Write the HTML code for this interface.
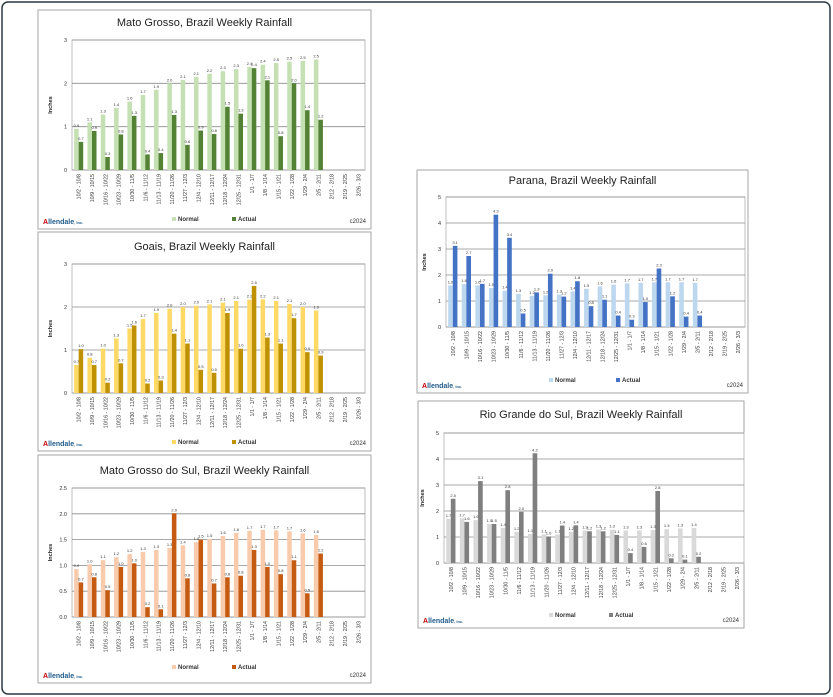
<!DOCTYPE html>
<html><head><meta charset="utf-8"><style>
html,body{margin:0;padding:0;background:#fff;}
svg{display:block;font-family:"Liberation Sans",sans-serif;}
</style></head><body>
<svg id="root" width="833" height="697" viewBox="0 0 833 697">
<rect x="2" y="2" width="828" height="692" rx="6" fill="#fff" stroke="#2b3a42" stroke-width="1.5"/>
</svg>
<script>
const categories = ["10/2 - 10/8","10/9 - 10/15","10/16 - 10/22","10/23 - 10/29","10/30 - 11/5","11/6 - 11/12","11/13 - 11/19","11/20 - 11/26","11/27 - 12/3","12/4 - 12/10","12/11 - 12/17","12/18 - 12/24","12/25 - 12/31","1/1 - 1/7","1/8 - 1/14","1/15 - 1/21","1/22 - 1/28","1/29 - 2/4","2/5 - 2/11","2/12 - 2/18","2/19 - 2/25","2/26 - 3/3"];
const mgNormal = [0.95,1.1,1.28,1.43,1.58,1.73,1.85,2.0,2.08,2.15,2.22,2.28,2.33,2.38,2.43,2.47,2.5,2.52,2.55];
const mgActual = [0.65,0.9,0.3,0.82,1.25,0.36,0.39,1.27,0.58,0.91,0.83,1.46,1.3,2.35,2.07,0.78,2.0,1.38,1.16];
const goNormal = [0.65,0.82,1.03,1.27,1.5,1.72,1.86,1.96,2.0,2.03,2.06,2.1,2.14,2.17,2.18,2.14,2.07,2.0,1.92];
const goActual = [1.02,0.65,0.24,0.69,1.57,0.22,0.29,1.38,1.15,0.54,0.47,1.86,1.03,2.49,1.29,1.15,1.74,0.95,0.87];
const msNormal = [0.93,1.02,1.1,1.16,1.22,1.26,1.3,1.34,1.39,1.45,1.51,1.57,1.63,1.67,1.69,1.68,1.66,1.62,1.59];
const msActual = [0.67,0.77,0.52,0.97,1.04,0.19,0.15,2.01,0.75,1.5,0.65,0.77,0.8,1.3,0.97,0.83,1.1,0.46,1.23];
const prNormal = [1.6,1.65,1.6,1.5,1.4,1.27,1.2,1.22,1.25,1.37,1.47,1.56,1.63,1.68,1.7,1.72,1.72,1.72,1.7];
const prActual = [3.12,2.73,1.66,4.32,3.43,0.52,1.33,2.05,1.17,1.76,0.8,1.05,0.44,0.28,0.96,2.25,1.18,0.4,0.44];
const rsNormal = [1.7,1.72,1.65,1.5,1.35,1.2,1.12,1.1,1.1,1.2,1.25,1.28,1.28,1.25,1.25,1.27,1.3,1.33,1.35];
const rsActual = [2.47,1.58,3.15,1.5,2.8,1.97,4.22,1.02,1.44,1.45,1.22,1.22,1.08,0.38,0.62,2.77,0.18,0.13,0.24];
const ticks3 = [0,1,2,3];
const ticks25 = [0,0.5,1.0,1.5,2.0,2.5];
const ticks5 = [0,1,2,3,4,5];

const NS="http://www.w3.org/2000/svg";
const root=document.getElementById('root');
function mk(tag,attrs,parent){const e=document.createElementNS(NS,tag);for(const k in attrs)e.setAttribute(k,attrs[k]);parent.appendChild(e);return e;}

function chart(cfg){
  const g=mk('g',{},root);
  
  
  const box=mk('rect',{x:cfg.box[0],y:cfg.box[1],width:cfg.box[2],height:cfg.box[3],fill:'#fff',stroke:'#a6a6a6','stroke-width':1},g);
  
  
  const [L,T,R,B]=cfg.plot;
  const ymax=cfg.ticks[cfg.ticks.length-1];
  const y=v=>B-(v/ymax)*(B-T);
  const bw=(R-L)/categories.length;
  const x=i=>L+i*bw;
  const t=mk('text',{x:cfg.box[0]+cfg.box[2]/2,y:cfg.titleY,'text-anchor':'middle','font-size':11,fill:'#222'},g);
  t.textContent=cfg.title;
  
  
  mk('rect',{x:L,y:T,width:R-L,height:B-T,fill:'none',stroke:'#bfbfbf','stroke-width':1},g);
  cfg.ticks.forEach(v=>{
    const gl=mk('line',{x1:L,x2:R,y1:y(v),y2:y(v),stroke:'#8c8c8c','stroke-width':0.8},g);
    
    
    const tl=mk('text',{x:L-5,y:y(v)+2,'text-anchor':'end','font-size':5.5,fill:'#333'},g);
    tl.textContent=cfg.fmt(v);
    
    
  });
  const yt=mk('text',{x:0,y:0,'font-size':5.5,'font-weight':'bold',fill:'#222','text-anchor':'middle',transform:`translate(${L-20},${(T+B)/2}) rotate(-90)`},g);
  yt.textContent='Inches';
  
  
  categories.forEach((c,i)=>{
    const cx=x(i)+bw/2;
    const xl=mk('text',{x:0,y:0,'font-size':5.3,fill:'#333','text-anchor':'end',transform:`translate(${cx+2},${B+4}) rotate(-90)`},g);
    xl.textContent=c;
    
    
  });
  const barW=bw*0.34;
  function series(arr,col,off,name){
    arr.forEach((v,i)=>{
      const bx=x(i)+bw/2+off*barW;
      const r=mk('rect',{x:bx,y:y(v),width:barW,height:B-y(v),fill:col},g);
      
      
      const lb=mk('text',{x:bx+barW/2,y:y(v)-2,'text-anchor':'middle','font-size':4,fill:'#333'},g);
      lb.textContent=v.toFixed(1);
      
      
    });
  }
  series(cfg.normal,cfg.cN,-1,'normal');
  series(cfg.actual,cfg.cA,0,'actual');
  [[cfg.leg[0],cfg.cN,'Normal'],[cfg.leg[1],cfg.cA,'Actual']].forEach(([lx,col,txt])=>{
    const s=mk('rect',{x:lx,y:cfg.legY-4,width:4,height:4,fill:col},g);
    
    
    const lt=mk('text',{x:lx+6,y:cfg.legY,'font-size':6,'font-weight':'bold',fill:'#333'},g);
    lt.textContent=txt;
    
    
  });
  const lg=mk('text',{x:cfg.box[0]+5,y:cfg.box[1]+cfg.box[3]-5,'font-size':7,'font-weight':'bold',fill:'#1f5a8a'},g);
  lg.innerHTML='<tspan fill="#c00000">A</tspan>llendale<tspan font-size="4">, Inc.</tspan>';
  
  
  const cp=mk('text',{x:cfg.box[0]+cfg.box[2]-5,y:cfg.box[1]+cfg.box[3]-6,'text-anchor':'end','font-size':6,fill:'#333'},g);
  cp.textContent='c2024';
  
  
}
const intF=v=>String(v), decF=v=>v.toFixed(1);
chart({id:'mato-grosso',title:'Mato Grosso, Brazil Weekly Rainfall',box:[38,10,333,219],plot:[72,40,365,170],titleY:26,ticks:ticks3,fmt:intF,normal:mgNormal,actual:mgActual,cN:'#c5e0b3',cA:'#548235',leg:[172,232],legY:221});
chart({id:'goias',title:'Goais, Brazil Weekly Rainfall',box:[38,232,333,219],plot:[72,264,365,393],titleY:250,ticks:ticks3,fmt:intF,normal:goNormal,actual:goActual,cN:'#ffd966',cA:'#bf9000',leg:[172,232],legY:444});
chart({id:'mato-grosso-do-sul',title:'Mato Grosso do Sul, Brazil Weekly Rainfall',box:[38,455,333,228],plot:[72,488,365,617],titleY:474,ticks:ticks25,fmt:decF,normal:msNormal,actual:msActual,cN:'#f8cbad',cA:'#c55a11',leg:[172,232],legY:669});
chart({id:'parana',title:'Parana, Brazil Weekly Rainfall',box:[417,170,331,223],plot:[446,197,745,327],titleY:184,ticks:ticks5,fmt:intF,normal:prNormal,actual:prActual,cN:'#bdd7ee',cA:'#4472c4',leg:[549,616],legY:382});
chart({id:'rio-grande-do-sul',title:'Rio Grande do Sul, Brazil Weekly Rainfall',box:[418,401,326,227],plot:[444,433,744,563],titleY:418,ticks:ticks5,fmt:intF,normal:rsNormal,actual:rsActual,cN:'#d9d9d9',cA:'#7f7f7f',leg:[549,609],legY:617});
</script>
</body></html>
